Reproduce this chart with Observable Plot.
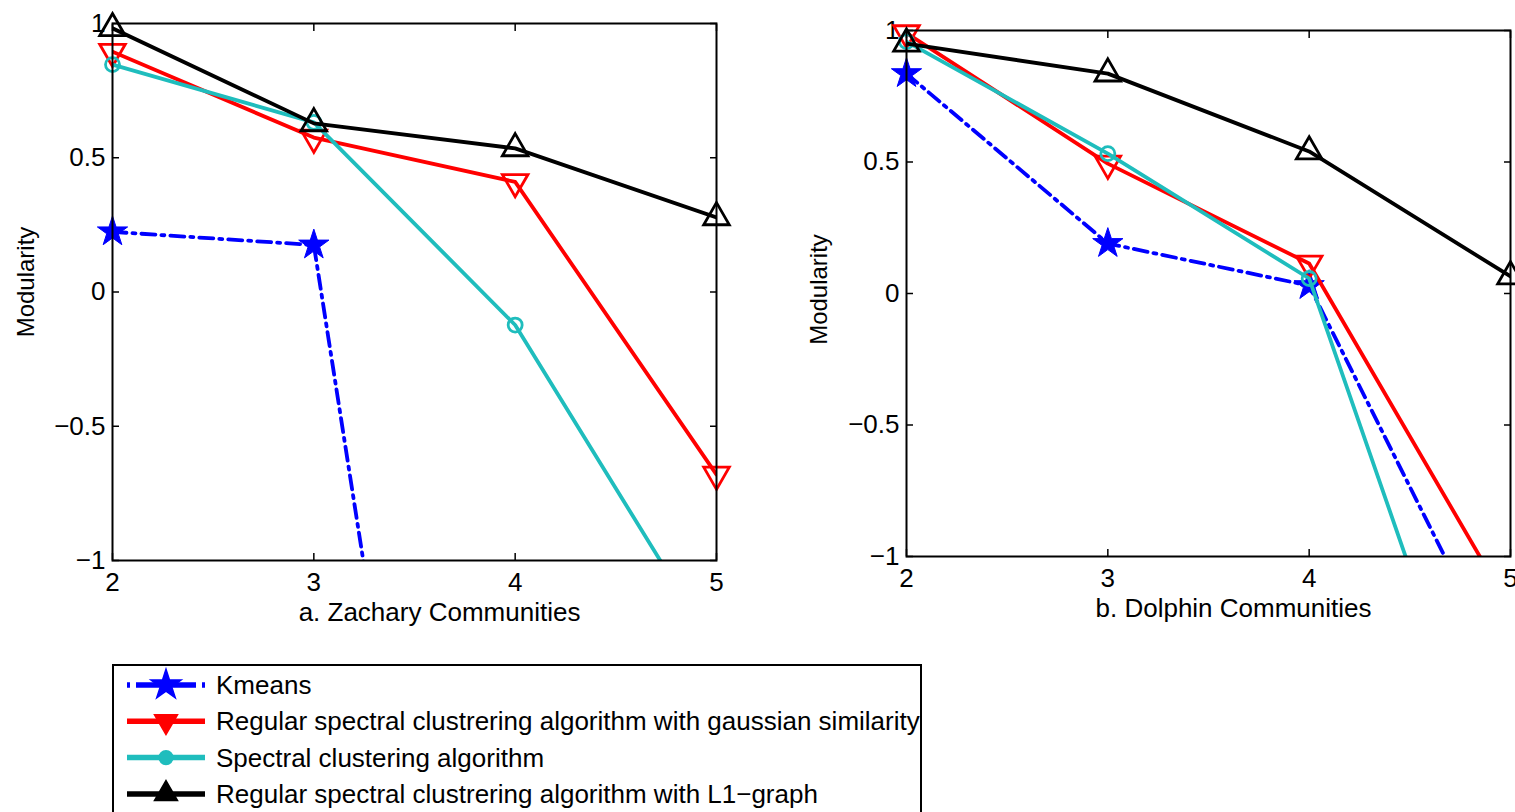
<!DOCTYPE html>
<html><head><meta charset="utf-8">
<script src="https://cdn.jsdelivr.net/npm/d3@7"></script>
<script src="https://cdn.jsdelivr.net/npm/@observablehq/plot@0.6"></script>
<style>
html,body{margin:0;padding:0;background:#fff;overflow:hidden;}
#root{position:relative;width:1515px;height:812px;overflow:hidden;font-family:"Liberation Sans",Arial,Helvetica,sans-serif;background:#fff;}
.panel{position:absolute;top:0;}
#legend{position:absolute;left:112px;top:664px;width:810px;height:170px;border:2px solid #000;background:#fff;box-sizing:border-box;}
</style></head><body><div id="root"></div>
<script>
// ---- data ----
const communities = [2, 3, 4, 5];
const xTicks = [2, 3, 4, 5];
const yTicks = [-1, -0.5, 0, 0.5, 1];
const seriesNames = [
  "Kmeans",
  "Regular spectral clustrering algorithm with gaussian similarity",
  "Spectral clustering algorithm",
  "Regular spectral clustrering algorithm with L1\u2212graph"
];
const seriesColors = ["#0000ff", "#ff0000", "#1fbdbd", "#000000"];
const seriesSymbols = ["star", "triangle", "circle", "triangle"];
const seriesRotate = [0, 180, 0, 0];

// a. Zachary Communities
const zacharyKmeans   = [0.224, 0.175, -4.61, -5.0];
const zacharyGaussian = [0.895, 0.575, 0.41, -0.68];
const zacharySpectral = [0.847, 0.632, -0.123, -1.34];
const zacharyL1       = [0.982, 0.628, 0.535, 0.278];

// b. Dolphin Communities
const dolphinKmeans   = [0.836, 0.19, 0.03, -1.50];
const dolphinGaussian = [0.99, 0.494, 0.114, -1.20];
const dolphinSpectral = [0.958, 0.532, 0.057, -2.15];
const dolphinL1       = [0.95, 0.836, 0.54, 0.065];

const xLabels = ["a. Zachary Communities", "b. Dolphin Communities"];
const yLabel = "Modularity";

// ---- helpers ----
const font = '"Liberation Sans", Arial, Helvetica, sans-serif';
const fmt = d => d < 0 ? "\u2212" + Math.abs(d) : String(d);

function toRows(seriesValues) {
  return seriesValues.map((vals, s) => vals.map((y, i) => ({x: communities[i], y, s})));
}

function panel(seriesValues, o) {
  const rows = toRows(seriesValues);
  const marks = [
    Plot.axisX(xTicks, {anchor: "bottom", tickSize: 0, tickPadding: 12, label: null, tickFormat: fmt, fontSize: 26, fill: "#000"}),
    Plot.axisX(xTicks, {anchor: "bottom", tickSize: 7, dy: -7, text: null, label: null, stroke: "#000", strokeWidth: 1.5}),
    Plot.axisX(xTicks, {anchor: "top", tickSize: 7, dy: 7, text: null, label: null, stroke: "#000", strokeWidth: 1.5}),
    Plot.axisY(yTicks, {anchor: "left", tickSize: 0, tickPadding: 7, label: null, tickFormat: fmt, fontSize: 26, fill: "#000"}),
    Plot.axisY(yTicks, {anchor: "left", tickSize: 7, dx: 7, text: null, label: null, stroke: "#000", strokeWidth: 1.5}),
    Plot.axisY(yTicks, {anchor: "right", tickSize: 7, dx: -7, text: null, label: null, stroke: "#000", strokeWidth: 1.5})
  ];
  rows.forEach((r, s) => {
    marks.push(Plot.line(r, {
      x: "x", y: "y", stroke: seriesColors[s], strokeWidth: 3.8,
      strokeDasharray: s === 0 ? "14,6,3,6" : null, clip: true
    }));
    const vis = r.filter(d => d.y >= -1 && d.y <= 1.02);
    marks.push(Plot.dot(vis, {
      x: "x", y: "y", symbol: seriesSymbols[s], rotate: seriesRotate[s],
      r: s === 0 ? 9.5 : s === 2 ? 7 : 9.5,
      fill: s === 0 ? seriesColors[s] : "none",
      stroke: seriesColors[s], strokeWidth: s === 0 ? 1 : 2.8
    }));
  });
  marks.push(Plot.frame({stroke: "#000", strokeWidth: 2}));
  marks.push(Plot.text([o.xlabel], {text: d => d, frameAnchor: "bottom", lineAnchor: "middle", textAnchor: "middle", dy: o.labelDy, dx: 25, fontSize: 26, fill: "#000"}));
  marks.push(Plot.text([yLabel], {text: d => d, frameAnchor: "left", textAnchor: "middle", lineAnchor: "middle", rotate: -90, dx: o.ylabDx, dy: o.ylabDy, fontSize: 24, fill: "#000"}));
  const W = o.width;
  return Plot.plot({
    width: W, height: 640,
    marginLeft: 112, marginRight: W - 112 - 604, marginTop: o.mt, marginBottom: 640 - o.bottom,
    x: {domain: [2, 5]},
    y: {domain: [-1, 1]},
    style: {fontFamily: font, fontSize: "26px", color: "#000", background: "transparent", overflow: "visible"},
    marks
  });
}

const root = document.getElementById("root");

const left = panel([zacharyKmeans, zacharyGaussian, zacharySpectral, zacharyL1],
  {width: 780, mt: 23, bottom: 560, xlabel: xLabels[0], labelDy: 52, ylabDx: -86, ylabDy: -10});
left.classList.add("panel");
left.style.left = "0px";
root.appendChild(left);

const right = panel([dolphinKmeans, dolphinGaussian, dolphinSpectral, dolphinL1],
  {width: 756, mt: 30, bottom: 556, xlabel: xLabels[1], labelDy: 52, ylabDx: -87, ylabDy: -4});
right.classList.add("panel");
right.style.left = "794px";
root.appendChild(right);

// ---- legend ----
const legend = document.createElement("div");
legend.id = "legend";
root.appendChild(legend);
const lsvg = d3.select(legend).append("svg").attr("width", 806).attr("height", 166)
  .style("font-family", font).style("font-size", "26px");
const symMap = {star: d3.symbolStar, triangle: d3.symbolTriangle, circle: d3.symbolCircle};
seriesNames.forEach((name, i) => {
  const y = 19 + 36.3 * i;
  const g = lsvg.append("g");
  g.append("line").attr("x1", 13).attr("x2", 91).attr("y1", y).attr("y2", y)
    .attr("stroke", seriesColors[i]).attr("stroke-width", 5.5)
    .attr("stroke-dasharray", i === 0 ? "3,6,60,6,3" : null);
  const size = i === 0 ? 280 : i === 2 ? 150 : 230;
  g.append("path").attr("d", d3.symbol(symMap[seriesSymbols[i]], size)())
    .attr("transform", `translate(52,${y}) rotate(${seriesRotate[i]})`)
    .attr("fill", seriesColors[i]).attr("stroke", seriesColors[i]).attr("stroke-width", 1.5);
  g.append("text").attr("x", 102).attr("y", y).attr("dy", "0.35em").attr("fill", "#000").text(name);
});
</script>
</body></html>
